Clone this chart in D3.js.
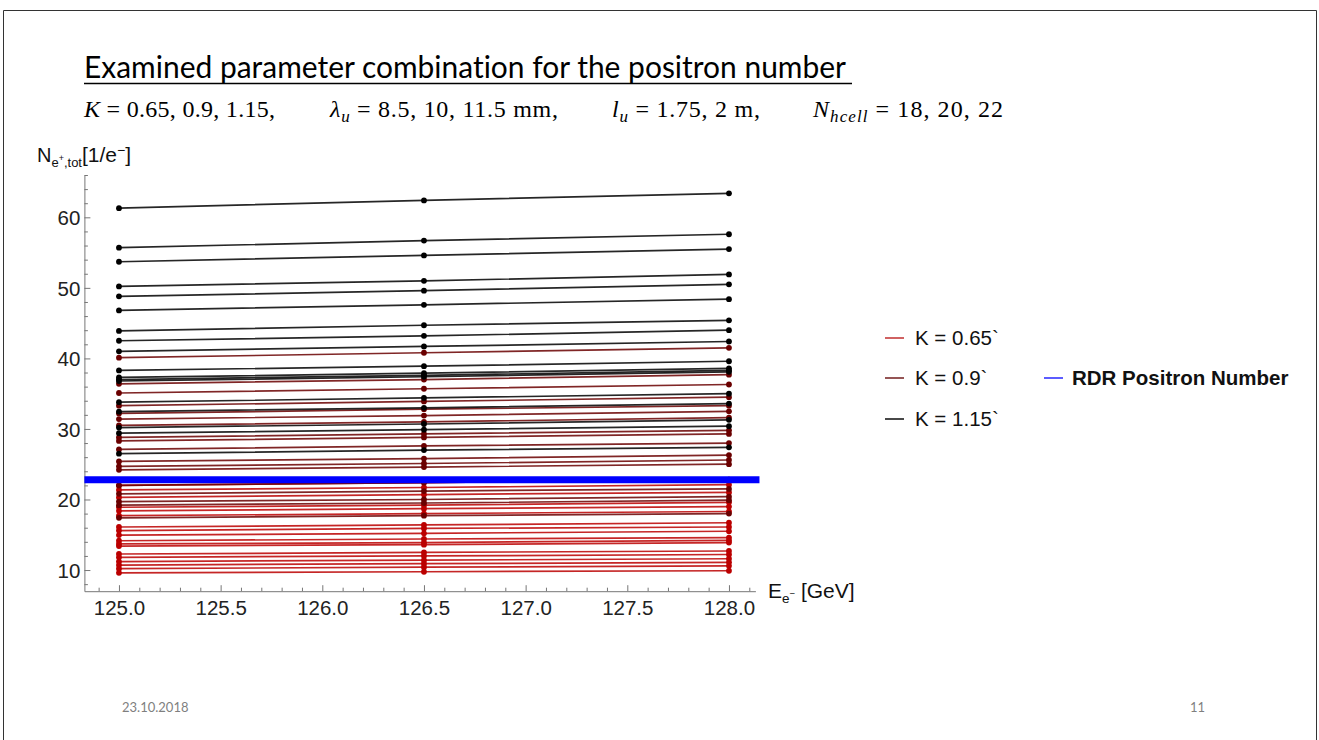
<!DOCTYPE html>
<html><head><meta charset="utf-8">
<script src="https://cdn.jsdelivr.net/npm/d3@7"></script>
<style>body{margin:0;background:#fff}svg{display:block}text{font-variant-ligatures:none}</style>
</head><body>
<svg id="c" width="1319" height="740"></svg>
<script>
// ---------------- DATA ----------------
const energies = [125.0, 126.5, 128.0];
const seriesNames = ["K = 0.65`", "K = 0.9`", "K = 1.15`"];
// K = 0.65
const k065 = [
  [22.0, 22.4, 22.8], [21.35, 21.7, 22.1], [20.3, 20.7, 21.0], [18.9, 19.2, 19.6],
  [18.4, 18.7, 19.0], [17.7, 18.0, 18.3], [16.1, 16.4, 16.7], [15.6, 15.9, 16.1],
  [14.96, 15.2, 15.5], [14.15, 14.4, 14.6], [13.7, 13.9, 14.2], [13.4, 13.6, 13.9],
  [12.27, 12.5, 12.7], [11.8, 12.0, 12.2], [11.2, 11.4, 11.6], [10.7, 10.9, 11.1],
  [10.2, 10.4, 10.6], [9.6, 9.76, 9.9]
];
// K = 0.9
const k090 = [
  [40.1, 40.8, 41.5], [36.4, 37.0, 37.7], [35.1, 35.7, 36.3], [33.3, 33.9, 34.5],
  [32.2, 32.8, 33.3], [31.4, 31.9, 32.5], [30.5, 31.0, 31.6], [28.8, 29.3, 29.8],
  [28.3, 28.8, 29.3], [27.1, 27.6, 28.0], [25.4, 25.8, 26.3], [24.7, 25.1, 25.6],
  [24.2, 24.6, 25.0], [22.0, 22.4, 22.8], [20.8, 21.2, 21.5], [19.7, 20.0, 20.4],
  [19.2, 19.5, 19.9], [17.4, 17.7, 18.0]
];
// K = 1.15
const k115 = [
  [61.3, 62.4, 63.4], [55.7, 56.7, 57.6], [53.7, 54.6, 55.5], [50.2, 51.0, 51.9],
  [48.8, 49.6, 50.5], [46.8, 47.6, 48.4], [43.9, 44.7, 45.4], [42.5, 43.2, 44.0],
  [41.0, 41.7, 42.4], [38.3, 38.9, 39.6], [37.3, 37.9, 38.6], [37.0, 37.6, 38.3],
  [36.8, 37.4, 38.1], [33.8, 34.4, 35.0], [32.45, 33.0, 33.6], [30.2, 30.7, 31.3],
  [29.4, 29.9, 30.4], [26.5, 27.0, 27.4]
];
const rdrLabel = "RDR Positron Number";
const rdrValue = 22.8;
const rdrSpan = [124.83, 128.15];
const xMajorTicks = [125.0, 125.5, 126.0, 126.5, 127.0, 127.5, 128.0];
const xTickLabels = ["125.0", "125.5", "126.0", "126.5", "127.0", "127.5", "128.0"];
const xMinorTicks = [124.9,125.1,125.2,125.3,125.4,125.6,125.7,125.8,125.9,126.1,126.2,126.3,126.4,
  126.6,126.7,126.8,126.9,127.1,127.2,127.3,127.4,127.6,127.7,127.8,127.9,128.1];
const yMajorTicks = [10, 20, 30, 40, 50, 60];
const yTickLabels = ["10", "20", "30", "40", "50", "60"];
const yMinorTicks = [8, 12, 14, 16, 18, 22, 24, 26, 28, 32, 34, 36, 38, 42, 44, 46, 48, 52, 54, 56, 58, 62, 64, 66];

// ---------------- STYLE ----------------
const colors = ["#bb0000", "#6a0000", "#000000"];
const legendColors = ["#c43a3a", "#7a2a2a", "#1a1a1a"];
const svg = d3.select("#c");

// slide border
svg.append("path").attr("d", "M3.5,745 V10.5 H1316.5 V745").attr("fill","none").attr("stroke","#333").attr("stroke-width",1);

// title
svg.append("text").attr("x",84).attr("y",78).attr("font-family","Lato, 'Open Sans', sans-serif")
  .attr("font-size",30).attr("fill","#000").attr("textLength",762).attr("lengthAdjust","spacingAndGlyphs")
  .text("Examined parameter combination for the positron number");
svg.append("line").attr("x1",84).attr("x2",852).attr("y1",83.5).attr("y2",83.5).attr("stroke","#000").attr("stroke-width",1.6);

// parameter line
const params = [
  {x:84, w:191, parts:[["K","i",null],[" = 0.65, 0.9, 1.15,","n",null]]},
  {x:330, w:228, parts:[["λ","i",null],["u","i","sub"],[" = 8.5, 10, 11.5 mm,","n",null]]},
  {x:612, w:148, parts:[["l","i",null],["u","i","sub"],[" = 1.75, 2 m,","n",null]]},
  {x:813, w:190, parts:[["N","i",null],["hcell","i","sub"],[" = 18, 20, 22","n",null]]}
];
params.forEach(p => {
  const t = svg.append("text").attr("x",p.x).attr("y",117).attr("font-family","'Liberation Serif', serif")
    .attr("font-size",24).attr("fill","#000").attr("textLength",p.w).attr("lengthAdjust","spacing");
  let prevSub = false;
  p.parts.forEach(([s, st, pos]) => {
    const ts = t.append("tspan").text(s).attr("font-style", st==="i"?"italic":"normal");
    if (pos==="sub") { ts.attr("font-size",17).attr("dy",5); prevSub = true; }
    else if (prevSub) { ts.attr("dy",-5); prevSub = false; }
  });
});

// ---------------- SCALES ----------------
const x = d3.scaleLinear().domain([124.83, 128.13]).range([84.4, 755.4]);
const y = d3.scaleLinear().domain([7, 66]).range([591.2, 175]);

// axes
const axisFont = "'Liberation Sans', Arial, sans-serif";
const gx = svg.append("g").attr("transform", `translate(0,${y(7)})`);
gx.call(d3.axisBottom(x).tickValues(xMajorTicks).tickSize(-6).tickSizeOuter(0).tickFormat((d,i)=>xTickLabels[i]));
const gxm = svg.append("g").attr("transform", `translate(0,${y(7)})`);
gxm.call(d3.axisBottom(x).tickValues(xMinorTicks).tickSize(-3.5).tickSizeOuter(0).tickFormat(""));
gxm.select(".domain").remove();
const gy = svg.append("g").attr("transform", `translate(${x(124.83)},0)`);
gy.call(d3.axisLeft(y).tickValues(yMajorTicks).tickSize(-6).tickSizeOuter(0).tickFormat((d,i)=>yTickLabels[i]));
const gym = svg.append("g").attr("transform", `translate(${x(124.83)},0)`);
gym.call(d3.axisLeft(y).tickValues(yMinorTicks).tickSize(-3.5).tickSizeOuter(0).tickFormat(""));
gym.select(".domain").remove();
[gx,gxm,gy,gym].forEach(g=>{
  g.selectAll("path,line").attr("stroke","#777").attr("stroke-width",1);
  g.selectAll("text").attr("font-family",axisFont).attr("font-size",20.5).attr("fill","#222");
});
gx.selectAll("text").attr("dy","1.0em").attr("y",3);
gy.selectAll("text").attr("x",-4).attr("dy","0.36em");

// axis labels
const yl = svg.append("text").attr("x",84).attr("y",162).attr("text-anchor","middle")
  .attr("font-family",axisFont).attr("font-size",20).attr("fill","#111");
yl.append("tspan").text("N");
yl.append("tspan").text("e").attr("font-size",13).attr("dy",5);
yl.append("tspan").text("+").attr("font-size",9).attr("dy",-6);
yl.append("tspan").text(",tot").attr("font-size",13).attr("dy",6);
yl.append("tspan").text("[1/e").attr("font-size",21).attr("dy",-5);
yl.append("tspan").text("−").attr("font-size",14).attr("dy",-7);
yl.append("tspan").text("]").attr("font-size",21).attr("dy",7);

const xl = svg.append("text").attr("x",768).attr("y",598)
  .attr("font-family",axisFont).attr("font-size",21).attr("fill","#111");
xl.append("tspan").text("E");
xl.append("tspan").text("e").attr("font-size",13.5).attr("dy",5);
xl.append("tspan").text("−").attr("font-size",9.5).attr("dy",-6);
xl.append("tspan").text(" [GeV]").attr("font-size",21).attr("dy",1);

// ---------------- DATA MARKS ----------------
const line = d3.line().x((d,i)=>x(energies[i])).y(d=>y(d));
[k065, k090, k115].forEach((group, gi) => {
  const g = svg.append("g");
  group.forEach(vals => {
    g.append("path").attr("d", line(vals)).attr("fill","none").attr("stroke",colors[gi]).attr("stroke-width",1.7).attr("stroke-opacity",0.85);
    g.selectAll(null).data(vals).enter().append("circle")
      .attr("cx",(d,i)=>x(energies[i])).attr("cy",d=>y(d)).attr("r",2.9).attr("fill",colors[gi]);
  });
});

// RDR line
svg.append("line").attr("x1",x(rdrSpan[0])).attr("x2",x(rdrSpan[1])).attr("y1",y(rdrValue)).attr("y2",y(rdrValue))
  .attr("stroke","#0000ff").attr("stroke-width",7);

// ---------------- LEGEND ----------------
const legY = [338, 378, 419];
seriesNames.forEach((n,i)=>{
  svg.append("line").attr("x1",885).attr("x2",904).attr("y1",legY[i]).attr("y2",legY[i]).attr("stroke",legendColors[i]).attr("stroke-width",1.6);
  svg.append("text").attr("x",915).attr("y",legY[i]).attr("dy","0.35em").attr("font-family",axisFont).attr("font-size",20.5).attr("fill","#111").text(n);
});
svg.append("line").attr("x1",1044).attr("x2",1063).attr("y1",378).attr("y2",378).attr("stroke","#4a4aff").attr("stroke-width",1.8);
svg.append("text").attr("x",1072).attr("y",378).attr("dy","0.35em").attr("font-family",axisFont).attr("font-weight","bold").attr("font-size",20.5).attr("fill","#111").text(rdrLabel);

// footer
svg.append("text").attr("x",122).attr("y",712).attr("font-family","Lato, sans-serif").attr("font-size",13).attr("fill","#7f7f7f").text("23.10.2018");
svg.append("text").attr("x",1190).attr("y",712).attr("font-family","Lato, sans-serif").attr("font-size",13).attr("fill","#7f7f7f").text("11");
</script>
</body></html>
